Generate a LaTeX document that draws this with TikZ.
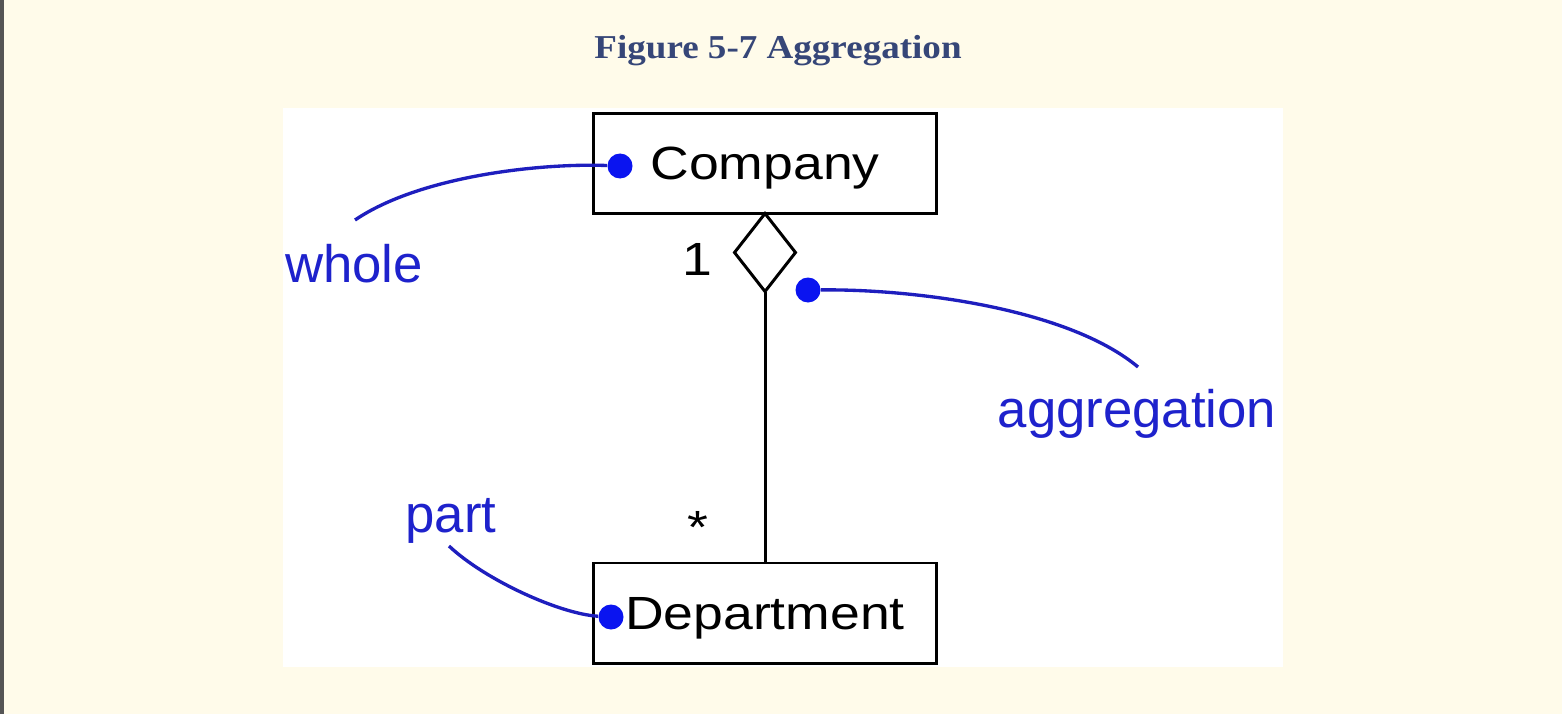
\documentclass[tikz,border=0pt]{standalone}
\usepackage{graphicx}
\usepackage{fontspec}
\setsansfont{Liberation Sans}
\newfontfamily\titlefont{Liberation Serif}
\usepackage{tikz}
\usetikzlibrary{positioning,shapes.geometric}

\definecolor{paper}{RGB}{255,251,234}
\definecolor{edgegray}{RGB}{85,85,85}
\definecolor{titleblue}{RGB}{54,70,120}
\definecolor{notetext}{RGB}{30,34,204}
\definecolor{noteline}{RGB}{30,30,190}
\definecolor{notedot}{RGB}{10,20,240}

% the class names in the source are set wider than they are tall
\newcommand{\umlname}[1]{\scalebox{1.15}[1]{#1}}

\begin{document}
\begin{tikzpicture}[
  x=0.2mm, y=-0.2mm,
  umlclass/.style={rectangle, draw, line width=1.7pt, fill=white,
                   minimum width=6.86cm, minimum height=2cm, outer sep=0pt,
                   font=\sffamily\fontsize{26.5}{31}\selectfont,
                   text height=21pt, text depth=2.5pt},
  aggmark/.style={diamond, draw, line width=1.7pt, fill=white, inner sep=0pt,
                  minimum width=1.22cm, minimum height=1.56cm, outer sep=0pt},
  assoc/.style={line width=1.7pt},
  mult/.style={font=\sffamily\fontsize{26.5}{31}\selectfont, inner sep=0pt},
  notedotstyle/.style={circle, fill=notedot, minimum size=0.5cm, inner sep=0pt},
  notelbl/.style={font=\sffamily\fontsize{30}{36}\selectfont, text=notetext,
                  inner sep=0pt, anchor=base},
  noteline/.style={draw=noteline, line width=1.9pt}
]
  % page background and frame
  \useasboundingbox (0,0) rectangle (1562,714);
  \fill[paper] (0,0) rectangle (1562,714);
  \fill[edgegray] (0,0) rectangle (3.5,714);
  \fill[white] (283,108) rectangle (1283,667);

  % caption
  \node[font=\titlefont\bfseries\fontsize{19}{23}\selectfont, text=titleblue,
        anchor=base, inner sep=0pt] (caption) at (778,59)
    {\scalebox{1.11}[1]{Figure 5-7 Aggregation}};

  % classes
  \node[umlclass] (company) at (765,163.5) {\umlname{Company}};
  \node[umlclass] (dept) at (765,613) {\umlname{Department}};
  \node[aggmark, below=0pt of company] (agg) {};
  \draw[assoc] (agg.south) -- (dept.north);

  % multiplicities
  \node[mult, anchor=base] (multone) at (697,275) {\umlname{1}};
  \node[mult, anchor=base] (multmany) at (698,543) {\umlname{*}};

  % annotation dots and labels
  \node[notedotstyle] (wholedot) at (620,166) {};
  \node[notedotstyle] (aggdot) at (808,290) {};
  \node[notedotstyle] (partdot) at (611,617) {};
  \node[notelbl] (wholelbl) at (354,282) {whole};
  \node[notelbl] (agglbl) at (1137,427) {aggregation};
  \node[notelbl] (partlbl) at (451,532) {part};
  \coordinate (wholetip) at (355,220);
  \coordinate (aggtip) at (1138,367);
  \coordinate (parttip) at (449,546);

  % annotation lines
  \draw[noteline] (wholedot) .. controls (540,163) and (420,176) .. (wholetip);
  \draw[noteline] (aggdot) .. controls (920,289) and (1070,310) .. (aggtip);
  \draw[noteline] (partdot) .. controls (560,614) and (485,580) .. (parttip);
\end{tikzpicture}
\end{document}
